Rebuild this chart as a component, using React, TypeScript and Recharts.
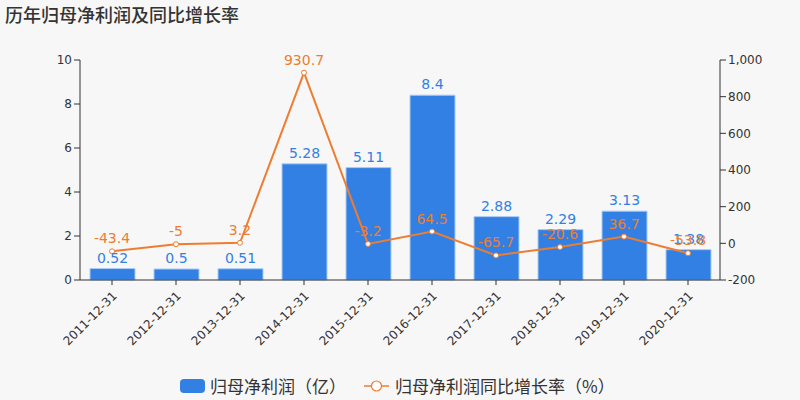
import React from 'react';
import { ComposedChart, Bar, Line, XAxis, YAxis, LabelList } from 'recharts';

const categories = ['2011-12-31', '2012-12-31', '2013-12-31', '2014-12-31', '2015-12-31', '2016-12-31', '2017-12-31', '2018-12-31', '2019-12-31', '2020-12-31'];
const profit = [0.52, 0.5, 0.51, 5.28, 5.11, 8.4, 2.88, 2.29, 3.13, 1.38];
const growth = [-43.4, -5, 3.2, 930.7, -3.2, 64.5, -65.7, -20.6, 36.7, -53.8];
const leftTicks = [0, 2, 4, 6, 8, 10];
const rightTicks = [-200, 0, 200, 400, 600, 800, 1000];

const data = categories.map((c, i) => ({ date: c, profit: profit[i], growth: growth[i] }));

const FONT = '"DejaVu Sans", "Noto Sans CJK SC", sans-serif';
const CJK = '"Noto Sans CJK SC", sans-serif';
const BLUE = '#3380e4';
const ORANGE = '#ed7d31';

const XTick = (props: any) => {
  const { x, y, payload } = props;
  return (
    <g transform={`translate(${x},${y + 4})`}>
      <text x={0} y={0} dy={8} textAnchor="end" fill="#333" fontSize={12} fontFamily={FONT} transform="rotate(-45)">
        {payload.value}
      </text>
    </g>
  );
};

export default function App() {
  return (
    <div style={{ position: 'absolute', left: 0, top: 0, width: 800, height: 400, background: '#f7f7f7', fontFamily: FONT }}>
      <div style={{ position: 'absolute', left: 5, top: 1, fontSize: 18, color: '#333', fontFamily: CJK, fontWeight: 500, whiteSpace: 'nowrap' }}>
        历年归母净利润及同比增长率
      </div>
      <ComposedChart width={800} height={400} data={data} margin={{ top: 60, right: 0, bottom: 50, left: 0 }}>
        <XAxis
          dataKey="date"
          tick={<XTick />}
          interval={0}
          height={70}
          axisLine={{ stroke: '#333' }}
          tickLine={{ stroke: '#333' }}
          tickSize={5}
        />
        <YAxis
          yAxisId="left"
          domain={[0, 10]}
          ticks={leftTicks}
          width={80}
          axisLine={{ stroke: '#333' }}
          tickLine={{ stroke: '#333' }}
          tick={{ fill: '#333', fontSize: 12, fontFamily: FONT }}
          interval={0}
        />
        <YAxis
          yAxisId="right"
          orientation="right"
          domain={[-200, 1000]}
          ticks={rightTicks}
          width={80}
          axisLine={{ stroke: '#333' }}
          tickLine={{ stroke: '#333' }}
          tick={{ fill: '#333', fontSize: 12, fontFamily: FONT }}
          tickFormatter={(v: number) => v.toLocaleString('en-US')}
          interval={0}
        />
        <Bar yAxisId="left" dataKey="profit" fill={BLUE} stroke="#a9cbf3" strokeWidth={1} barSize={45} isAnimationActive={false}>
          <LabelList dataKey="profit" position="top" offset={6} fill={BLUE} fontSize={14} fontFamily={FONT} />
        </Bar>
        <Line
          yAxisId="right"
          dataKey="growth"
          stroke={ORANGE}
          strokeWidth={2}
          dot={{ r: 2.5, fill: '#fff', stroke: ORANGE, strokeWidth: 1 }}
          activeDot={false}
          isAnimationActive={false}
        >
          <LabelList dataKey="growth" position="top" offset={8} fill={ORANGE} fontSize={14} fontFamily={FONT} />
        </Line>
      </ComposedChart>
      <div style={{ position: 'absolute', left: 180, top: 373, display: 'flex', alignItems: 'center', fontSize: 17, color: '#333', fontFamily: CJK, whiteSpace: 'nowrap' }}>
        <span style={{ display: 'inline-block', width: 25, height: 14, borderRadius: 4, background: BLUE, marginRight: 5 }} />
        <span>归母净利润（亿）</span>
        <svg width={25} height={14} style={{ marginLeft: 18, marginRight: 6 }}>
          <line x1={0} y1={7} x2={25} y2={7} stroke={ORANGE} strokeWidth={1.5} />
          <circle cx={12.5} cy={7} r={5} fill="#fff" stroke={ORANGE} strokeWidth={1.2} />
        </svg>
        <span>归母净利润同比增长率（%）</span>
      </div>
    </div>
  );
}
